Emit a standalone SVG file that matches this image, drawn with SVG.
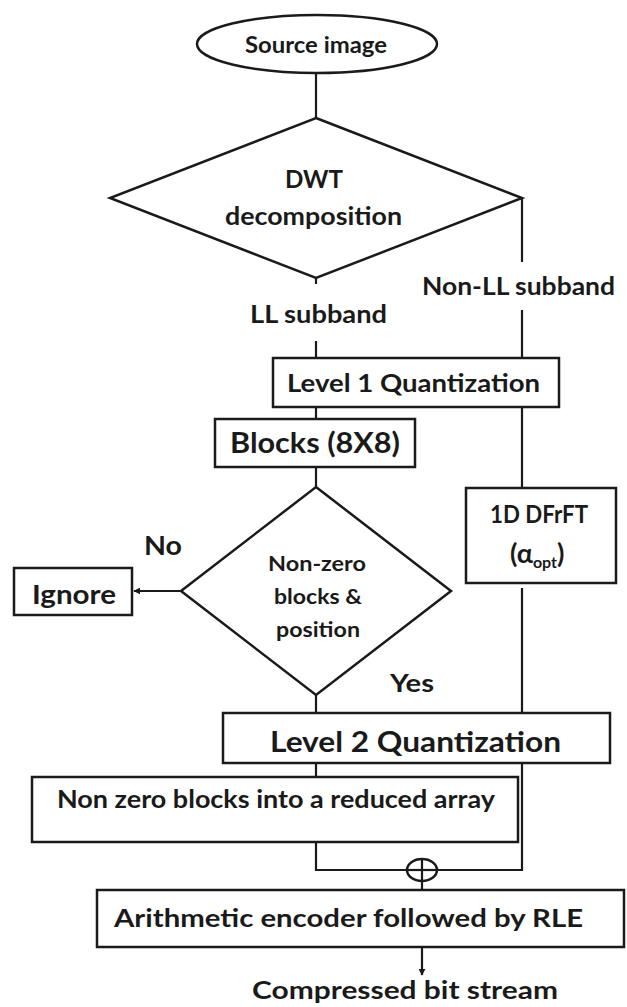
<svg xmlns="http://www.w3.org/2000/svg" width="627" height="1007" viewBox="0 0 627 1007">
<style>
  .shape { fill: #ffffff; stroke: #1a1a1a; stroke-width: 2.5; }
  .line { fill: none; stroke: #1a1a1a; stroke-width: 2.2; }
  text { font-family: Lato, "Liberation Sans", sans-serif; font-weight: bold; fill: #1a1a1a; }
  .t24 { font-size: 24px; }
  .t28 { font-size: 28px; }
  .t21 { font-size: 21px; }
</style>
<defs>
  <marker id="arrow" viewBox="0 0 10 10" refX="9" refY="5" markerWidth="7" markerHeight="7" markerUnits="userSpaceOnUse" orient="auto">
    <path d="M0,0 L10,5 L0,10 z" fill="#1a1a1a"/>
  </marker>
</defs>
<rect width="627" height="1007" fill="#ffffff"/>

<g id="connectors">
  <line class="line" x1="316" y1="73" x2="316" y2="118"/>
  <line class="line" x1="316" y1="278" x2="316" y2="284"/>
  <line class="line" x1="316" y1="341" x2="316" y2="358"/>
  <line class="line" x1="522" y1="198" x2="522" y2="262"/>
  <line class="line" x1="522" y1="310" x2="522" y2="358"/>
  <line class="line" x1="522" y1="407" x2="522" y2="488"/>
  <line class="line" x1="522" y1="588" x2="522" y2="713"/>
  <polyline class="line" points="522,763 522,870 437,870"/>
  <line class="line" x1="316" y1="407" x2="316" y2="419"/>
  <line class="line" x1="316" y1="467" x2="316" y2="487"/>
  <line class="line" x1="181" y1="591" x2="134" y2="591" marker-end="url(#arrow)"/>
  <line class="line" x1="316" y1="695" x2="316" y2="713"/>
  <line class="line" x1="316" y1="763" x2="316" y2="777"/>
  <polyline class="line" points="316,842 316,870 407,870"/>
  <line class="line" x1="422" y1="881" x2="422" y2="890"/>
  <line class="line" x1="422" y1="947" x2="422" y2="975" marker-end="url(#arrow)"/>
</g>

<g id="source">
  <ellipse class="shape" cx="317" cy="44" rx="120" ry="29"/>
  <text x="245" y="53" font-size="22" textLength="142" lengthAdjust="spacingAndGlyphs">Source image</text>
</g>

<g id="dwt">
  <polygon class="shape" points="316,118 522,198 316,278 110,198"/>
  <text class="t24" x="285" y="188" textLength="58" lengthAdjust="spacingAndGlyphs">DWT</text>
  <text class="t24" x="225" y="225" textLength="177" lengthAdjust="spacingAndGlyphs">decomposition</text>
</g>

<g id="label-ll">
  <text class="t24" x="250" y="323" textLength="137" lengthAdjust="spacingAndGlyphs">LL subband</text>
</g>
<g id="label-nonll">
  <text class="t24" x="422" y="295" textLength="193" lengthAdjust="spacingAndGlyphs">Non-LL subband</text>
</g>

<g id="level1">
  <rect class="shape" x="273" y="358" width="286" height="49"/>
  <text class="t24" x="287" y="392" textLength="253" lengthAdjust="spacingAndGlyphs">Level 1 Quantization</text>
</g>

<g id="blocks">
  <rect class="shape" x="215" y="419" width="200" height="48"/>
  <text class="t28" x="230" y="453" textLength="170" lengthAdjust="spacingAndGlyphs">Blocks (8X8)</text>
</g>

<g id="decision">
  <polygon class="shape" points="316,487 451,591 316,695 181,591"/>
  <text class="t21" x="268" y="571" textLength="98" lengthAdjust="spacingAndGlyphs">Non-zero</text>
  <text class="t21" x="274" y="604" textLength="88" lengthAdjust="spacingAndGlyphs">blocks &amp;</text>
  <text class="t21" x="276" y="637" textLength="84" lengthAdjust="spacingAndGlyphs">position</text>
</g>

<g id="label-no">
  <text x="144" y="555" font-size="26" textLength="38" lengthAdjust="spacingAndGlyphs">No</text>
</g>

<g id="ignore">
  <rect class="shape" x="14" y="568" width="118" height="47"/>
  <text x="32" y="604" font-size="26" textLength="84" lengthAdjust="spacingAndGlyphs">Ignore</text>
</g>

<g id="dfrft">
  <rect class="shape" x="466" y="488" width="150" height="95"/>
  <text class="t24" x="490" y="523" textLength="98" lengthAdjust="spacingAndGlyphs">1D DFrFT</text>
  <text x="510" y="563" font-size="27">(α<tspan font-size="16" dy="5">opt</tspan><tspan dy="-5">)</tspan></text>
</g>

<g id="label-yes">
  <text class="t24" x="390" y="692" textLength="44" lengthAdjust="spacingAndGlyphs">Yes</text>
</g>

<g id="level2">
  <rect class="shape" x="223" y="713" width="387" height="50"/>
  <text class="t28" x="270" y="752" textLength="291" lengthAdjust="spacingAndGlyphs">Level 2 Quantization</text>
</g>

<g id="nonzero">
  <rect class="shape" x="32" y="777" width="486" height="65"/>
  <text class="t24" x="57" y="808" textLength="438" lengthAdjust="spacingAndGlyphs">Non zero blocks into a reduced array</text>
</g>

<g id="sum">
  <ellipse class="shape" cx="422" cy="870" rx="15" ry="11"/>
  <line class="line" x1="407" y1="870" x2="437" y2="870"/>
  <line class="line" x1="422" y1="859" x2="422" y2="881"/>
</g>

<g id="encoder">
  <rect class="shape" x="97" y="890" width="527" height="57"/>
  <text x="114" y="927" font-size="25" textLength="469" lengthAdjust="spacingAndGlyphs">Arithmetic encoder followed by RLE</text>
</g>

<g id="output">
  <text x="252" y="999" font-size="25" textLength="306" lengthAdjust="spacingAndGlyphs">Compressed bit stream</text>
</g>
</svg>
